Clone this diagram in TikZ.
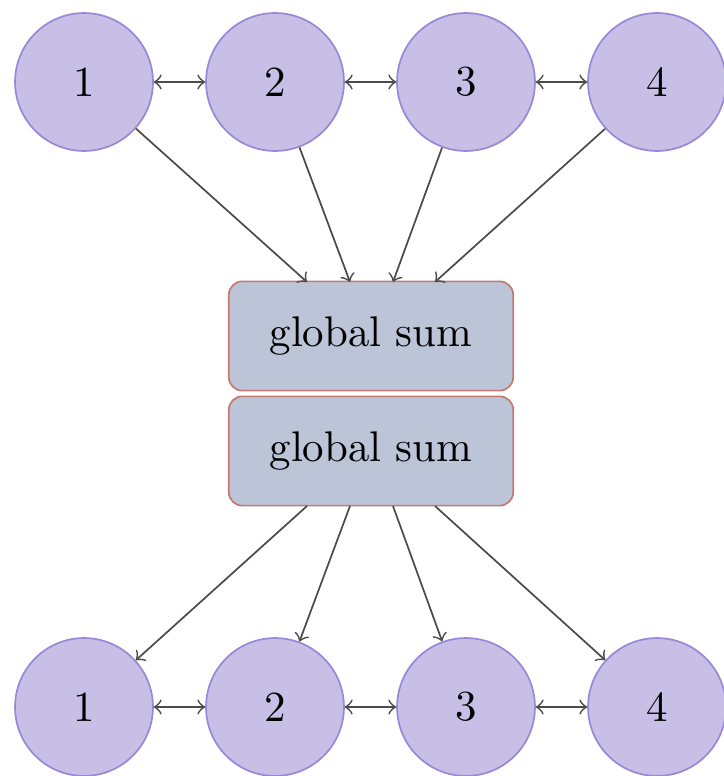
\documentclass[tikz,border=0pt]{standalone}
\definecolor{procfill}{RGB}{200,191,230}
\definecolor{procline}{RGB}{155,135,215}
\definecolor{sumfill}{RGB}{188,196,216}
\definecolor{sumline}{RGB}{196,122,112}
\definecolor{arrowgray}{RGB}{75,75,75}
\begin{document}
\begin{tikzpicture}[x=0.0082cm,y=-0.0082cm,
    proc/.style={circle,draw=procline,fill=procfill,minimum size=1.13cm,inner sep=0pt},
    sumbox/.style={rectangle,rounded corners=0.11cm,draw=sumline,fill=sumfill,minimum width=2.33cm,minimum height=0.895cm},
    link/.style={draw=arrowgray,line width=0.4pt}]
    \useasboundingbox (0,0) rectangle (723,776);
    \node[proc] (t1) at (84,82) {1};
    \node[proc] (t2) at (275,82) {2};
    \node[proc] (t3) at (466,82) {3};
    \node[proc] (t4) at (657,82) {4};
    \node[sumbox] (sumA) at (371,336) {global sum};
    \node[sumbox] (sumB) at (371,451) {global sum};
    \node[proc] (b1) at (84,707) {1};
    \node[proc] (b2) at (275,707) {2};
    \node[proc] (b3) at (466,707) {3};
    \node[proc] (b4) at (657,707) {4};
    \draw[link,<->] (t1) -- (t2);
    \draw[link,<->] (t2) -- (t3);
    \draw[link,<->] (t3) -- (t4);
    \draw[link,<->] (b1) -- (b2);
    \draw[link,<->] (b2) -- (b3);
    \draw[link,<->] (b3) -- (b4);
    \coordinate (inA) at (307,282);
    \coordinate (inB) at (350,282);
    \coordinate (inC) at (393,282);
    \coordinate (inD) at (435,282);
    \coordinate (outA) at (307,506);
    \coordinate (outB) at (350,506);
    \coordinate (outC) at (393,506);
    \coordinate (outD) at (435,506);
    \draw[link,->] (t1) -- (inA);
    \draw[link,->] (t2) -- (inB);
    \draw[link,->] (t3) -- (inC);
    \draw[link,->] (t4) -- (inD);
    \draw[link,->] (outA) -- (b1);
    \draw[link,->] (outB) -- (b2);
    \draw[link,->] (outC) -- (b3);
    \draw[link,->] (outD) -- (b4);
\end{tikzpicture}
\end{document}
